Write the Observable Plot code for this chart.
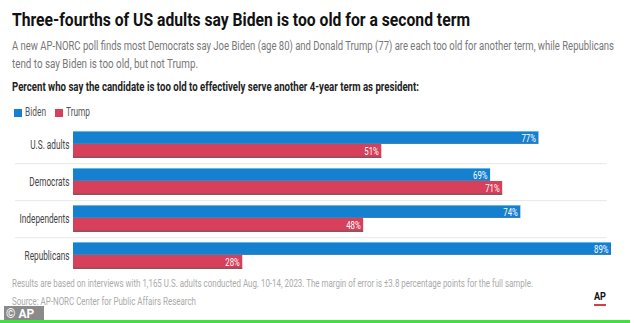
<!DOCTYPE html>
<html>
<head>
<meta charset="utf-8">
<script src="https://cdn.jsdelivr.net/npm/d3@7"></script>
<script src="https://cdn.jsdelivr.net/npm/@observablehq/plot@0.6"></script>
<style>
  body { margin: 0; width: 634px; height: 323px; overflow: hidden; background: #fff; position: relative;
         font-family: "Roboto", "Liberation Sans", sans-serif; }
  .abs { position: absolute; white-space: nowrap; transform-origin: 0 0; }
  #title { left: 12px; top: 8px; font-size: 19px; font-weight: bold; color: #111; }
  .sub { left: 12px; font-size: 12px; color: #777; }
  #lead { left: 12px; top: 80px; font-size: 12px; font-weight: bold; color: #222; }
  .sw { position: absolute; top: 109px; width: 8px; height: 8px; }
  #chart { left: 0; top: 100px; }
  #note { left: 12px; top: 278px; font-size: 10px; color: #aaa; }
  #source { left: 12px; top: 296px; font-size: 10px; color: #aaa; }
  #aplogo { left: 594px; top: 291px; font-size: 10px; font-weight: bold; color: #111; }
  #apline { left: 594px; top: 304px; width: 12px; height: 1.5px; background: #c44; }
  #copy { left: 4px; top: 306px; width: 38px; height: 16px; background: #8a8a8a; color: #fff; font-size: 12px; font-weight: bold; line-height: 16px; padding-left: 2px; }
  #green { left: 0; top: 320px; width: 630px; height: 3px; background: #3fe03f; }
</style>
</head>
<body>
<div class="abs" id="title" data-w="458">Three-fourths of US adults say Biden is too old for a second term</div>
<div class="abs sub" style="top:39px" data-w="602">A new AP-NORC poll finds most Democrats say Joe Biden (age 80) and Donald Trump (77) are each too old for another term, while Republicans</div>
<div class="abs sub" style="top:57px" data-w="186">tend to say Biden is too old, but not Trump.</div>
<div class="abs" id="lead" data-w="407">Percent who say the candidate is too old to effectively serve another 4-year term as president:</div>
<div class="abs" id="chart"></div>
<div class="abs" id="note" data-w="521">Results are based on interviews with 1,165 U.S. adults conducted Aug. 10-14, 2023. The margin of error is ±3.8 percentage points for the full sample.</div>
<div class="abs" id="source" data-w="184">Source: AP-NORC Center for Public Affairs Research</div>
<div class="abs" id="aplogo" data-w="12">AP</div>
<div class="abs" id="apline"></div>
<div class="abs" id="copy">© AP</div>
<div class="abs" id="green"></div>
<script>
const groups = ["U.S. adults", "Democrats", "Independents", "Republicans"];
const biden = [77, 69, 74, 89];
const trump = [51, 71, 48, 28];
const seriesNames = ["Biden", "Trump"];
const seriesColors = ["#1580d0", "#d6405a"];

const bidenRows = groups.map((g, i) => ({group: g, value: biden[i]}));
const trumpRows = groups.map((g, i) => ({group: g, value: trump[i]}));

// legend (swatch left positions and label widths)
const legX = [14, 55];
const legW = [21, 24];
seriesNames.forEach((n, i) => {
  const sw = document.createElement("div"); sw.className = "sw";
  sw.style.left = legX[i] + "px"; sw.style.background = seriesColors[i];
  document.body.appendChild(sw);
  const lb = document.createElement("div"); lb.className = "abs";
  lb.style.left = (legX[i] + 11) + "px"; lb.style.top = "105px"; lb.style.fontSize = "12px"; lb.style.color = "#555";
  lb.dataset.w = legW[i]; lb.textContent = n;
  document.body.appendChild(lb);
});

const H = 180, mT = 25, mB = 5.8;
const step = (H - mT - mB) / groups.length;

const plot = Plot.plot({
  width: 634,
  height: H,
  marginTop: mT,
  marginBottom: mB,
  marginLeft: 73,
  marginRight: 23,
  x: {domain: [0, 89], axis: null},
  y: {domain: groups, padding: 0, label: null, axis: null},
  style: {fontFamily: "Roboto, sans-serif", fontSize: "12px", color: "#444", background: "transparent"},
  marks: [
    Plot.ruleY(groups.slice(0, 3), {y: d => d, x1: -9.6, x2: 88.3, dy: step / 2, stroke: "#e8e8e8", strokeWidth: 1}),
    // Biden bars
    Plot.barX(bidenRows, {y: "group", x: "value", fill: seriesColors[0], insetTop: 5, insetBottom: step - 18}),
    Plot.barX(bidenRows, {y: "group", x: "value", fill: "#7fd4f2", insetTop: 5, insetBottom: step - 6}),
    Plot.barX(bidenRows, {y: "group", x: "value", fill: "#2a5f8a", insetTop: 17.2, insetBottom: step - 18}),
    // Trump bars
    Plot.barX(trumpRows, {y: "group", x: "value", fill: seriesColors[1], insetTop: 18, insetBottom: step - 32}),
    Plot.barX(trumpRows, {y: "group", x: "value", fill: "#5a4a50", insetTop: 30.8, insetBottom: step - 32}),
    // value labels
    Plot.text(bidenRows, {y: "group", x: "value", text: d => d.value + "%", textAnchor: "end", dx: -3, dy: 11.5 - step / 2 + 0.3, fill: "white", fontSize: 11.5, className: "vlab"}),
    Plot.text(trumpRows, {y: "group", x: "value", text: d => d.value + "%", textAnchor: "end", dx: -3, dy: 25 - step / 2 + 0.3, fill: "white", fontSize: 11.5, className: "vlab"}),
    Plot.axisY({tickSize: 0, tickPadding: 4, fontSize: 12.5, fill: "#444", className: "ylab"})
  ]
});
document.getElementById("chart").appendChild(plot);

// condense HTML texts to the reference widths
document.querySelectorAll("[data-w]").forEach(el => {
  const w = el.getBoundingClientRect().width;
  el.style.transform = `scaleX(${(+el.dataset.w) / w})`;
});
// condense SVG texts
function condense(sel, k) {
  plot.querySelectorAll(sel).forEach(t => {
    const L = t.getComputedTextLength();
    t.setAttribute("textLength", L * k);
    t.setAttribute("lengthAdjust", "spacingAndGlyphs");
  });
}
condense(".ylab text", 0.66);
condense(".vlab text", 0.68);
</script>
</body>
</html>
